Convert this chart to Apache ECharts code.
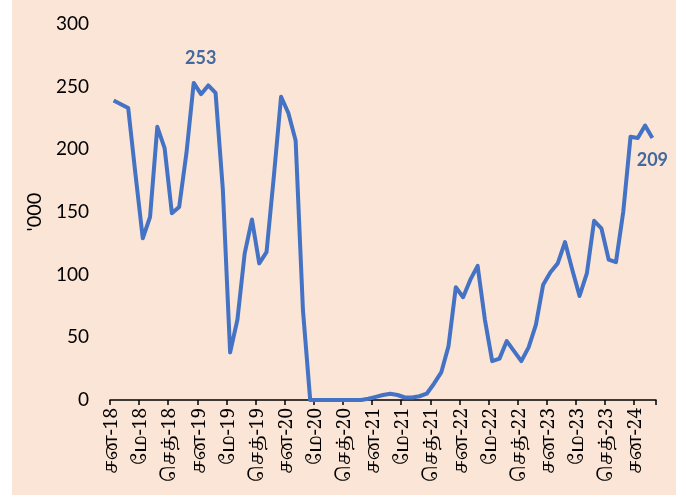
<!DOCTYPE html>
<html>
<head>
<meta charset="utf-8">
<script src="https://cdn.jsdelivr.net/npm/echarts@6/dist/echarts.min.js"></script>
<style>
html,body{margin:0;padding:0;background:#ffffff;}
#chart{position:absolute;left:12px;top:0;width:664px;height:495px;background:#FBE5D6;}
</style>
</head>
<body>
<div id="chart"></div>
<script>
const monthNames = ['சன','பெப்','மார்','ஏப்','மே','ஜூன்','ஜூலை','ஓக','செத்','ஒக்','நவ','டிச'];
const years = ['18','19','20','21','22','23','24'];
const categories = [];
for (let y = 0; y < years.length; y++) {
  for (let m = 0; m < 12; m++) {
    if (y === 6 && m > 2) break;
    categories.push(monthNames[m] + '-' + years[y]);
  }
}
const values = [
  239,236,233,180,129,146,218,201,149,154,197,253,
  244,251,245,168,38,64,117,144,109,118,178,242,
  229,207,72,0,0,0,0,0,0,0,0,1,
  2.5,4,5,4,2,2,3,5,13,22,43,90,
  82,96,107,64,31,33,47,39,31,42,60,92,
  102,109,126,104,83,101,143,137,112,110,150,210,
  209,219,209
];
const labelIdx = [11, 74];
const yTicks = [0,50,100,150,200,250,300];

const chart = echarts.init(document.getElementById('chart'));
chart.setOption({
  backgroundColor: 'transparent',
  animation: false,
  grid: {left: 98, right: 20, top: 24, bottom: 95},
  xAxis: {
    type: 'category',
    data: categories,
    boundaryGap: true,
    axisLine: {lineStyle: {color: '#000', width: 1.5}},
    axisTick: {show: true, interval: 3, length: 5, lineStyle: {color: '#000', width: 1.5}},
    axisLabel: {interval: 3, rotate: 90, color: '#000', fontSize: 19,
      fontFamily: '"Noto Serif Tamil", "Noto Sans Tamil", "Lohit Tamil", "FreeSerif", serif', margin: 8}
  },
  yAxis: {
    type: 'value',
    min: yTicks[0], max: yTicks[yTicks.length-1], interval: 50,
    name: "'000",
    nameLocation: 'middle',
    nameGap: 55,
    nameTextStyle: {fontSize: 20, fontFamily: 'Lato, sans-serif', color: '#000'},
    axisLine: {show: false},
    axisTick: {show: false},
    splitLine: {show: false},
    axisLabel: {color: '#000', fontSize: 19, fontFamily: 'Lato, sans-serif', margin: 21}
  },
  series: [{
    type: 'line',
    data: values.map((v, i) => {
      if (i === labelIdx[0]) return {value: v, label: {show: true, position: 'top', distance: 16, offset: [7, 0]}};
      if (i === labelIdx[1]) return {value: v, label: {show: true, position: 'bottom', distance: 10, offset: [0, 3]}};
      return v;
    }),
    symbol: 'circle',
    symbolSize: 0,
    showSymbol: true,
    lineStyle: {color: '#4472C4', width: 4, join: 'round'},
    itemStyle: {color: '#4472C4'},
    label: {show: false, color: '#44699E', fontSize: 18, fontWeight: 'bold', fontFamily: 'Lato, sans-serif'}
  }]
});
</script>
</body>
</html>
